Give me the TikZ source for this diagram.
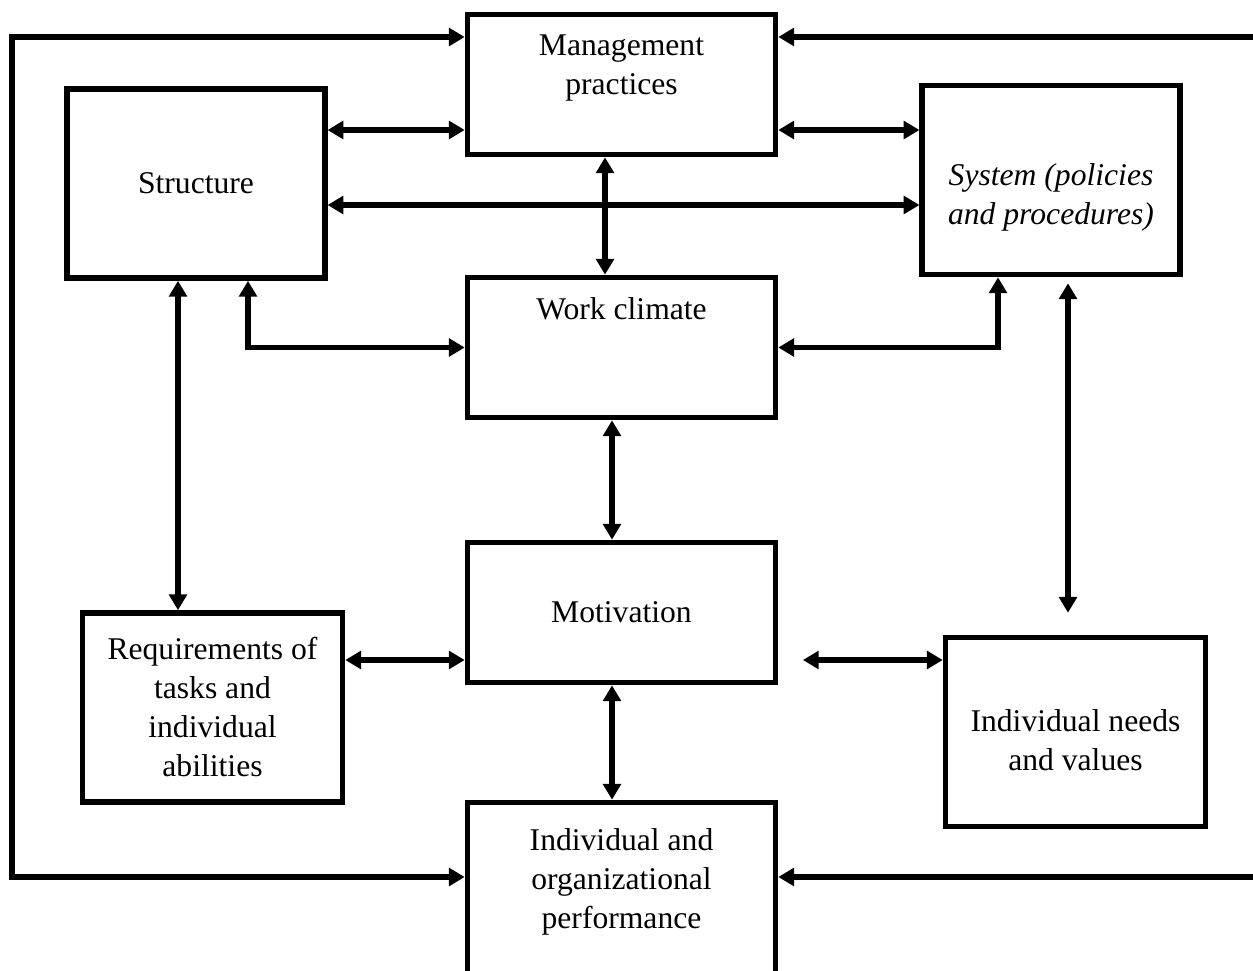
\documentclass[tikz,border=0pt]{standalone}
\usepackage{fontspec}
\setmainfont{Liberation Serif}
\usetikzlibrary{arrows.meta,calc}
\begin{document}
\begin{tikzpicture}[x=0.02cm, y=-0.02cm, line join=miter,
    >={Triangle[length=9pt,width=10pt]},
    font=\fontsize{18}{22.2}\selectfont,
    box/.style={draw, line width=3.2pt, align=center, inner sep=0pt,
        minimum width=6.16cm, minimum height=2.8cm},
    smallbox/.style={box, minimum width=5.15cm, minimum height=3.78cm},
    link/.style={<->, line width=3pt}]
    \useasboundingbox (0,0) rectangle (1253,970);
    \clip (0,0) rectangle (1253,970);
    % boxes
    \node[box] (mgmt) at (621.5,84.5) {Management\\practices\\~};
    \node[smallbox] (struct) at (196,183.5) {Structure};
    \node[smallbox] (sys) at (1051,180) {~\\[10pt]\itshape System (policies\\\itshape and procedures)};
    \node[box] (climate) at (621.5,347.5) {Work climate\\~\\~};
    \node[box] (motiv) at (621.5,612.5) {Motivation};
    \node[smallbox, minimum width=5.2cm] (req) at (212.5,707.5) {Requirements of\\tasks and\\individual\\abilities};
    \node[smallbox, minimum width=5.2cm] (needs) at (1075.5,732) {~\\Individual needs\\and values};
    \node[box, minimum height=3.82cm] (perf) at (621.5,898) {Individual and\\organizational\\performance\\~};
    % outer loops
    \coordinate (topR) at (1253,37);
    \coordinate (botR) at (1253,877);
    \draw[link] (mgmt.west |- 0,37) -| (12,877) -- (perf.west |- 0,877);
    \draw[link, <-] (mgmt.east |- topR) -- (topR);
    \draw[link, <-] (perf.east |- botR) -- (botR);
    % top row
    \draw[link] (struct.east |- 0,130) -- (mgmt.west |- 0,130);
    \draw[link] (mgmt.east |- 0,130) -- (sys.west |- 0,130);
    \draw[link] (struct.east |- 0,205) -- (sys.west |- 0,205);
    \draw[link] (mgmt.south -| 605,0) -- (climate.north -| 605,0);
    % into work climate
    \draw[link] (struct.south -| 248,0) |- (climate.west);
    \draw[link] (sys.south -| 998,0) |- (climate.east);
    % long verticals
    \draw[link] (struct.south -| 178,0) -- (req.north -| 178,0);
    \draw[link, shorten <=3.4pt, shorten >=12.5pt] (sys.south -| 1068,0) -- (needs.north -| 1068,0);
    \draw[link] (climate.south -| 612,0) -- (motiv.north -| 612,0);
    \draw[link] (motiv.south -| 612,0) -- (perf.north -| 612,0);
    % motivation row
    \draw[link] (req.east |- 0,660) -- (motiv.west |- 0,660);
    \draw[link, shorten <=14pt] (motiv.east |- 0,660) -- (needs.west |- 0,660);
\end{tikzpicture}
\end{document}
